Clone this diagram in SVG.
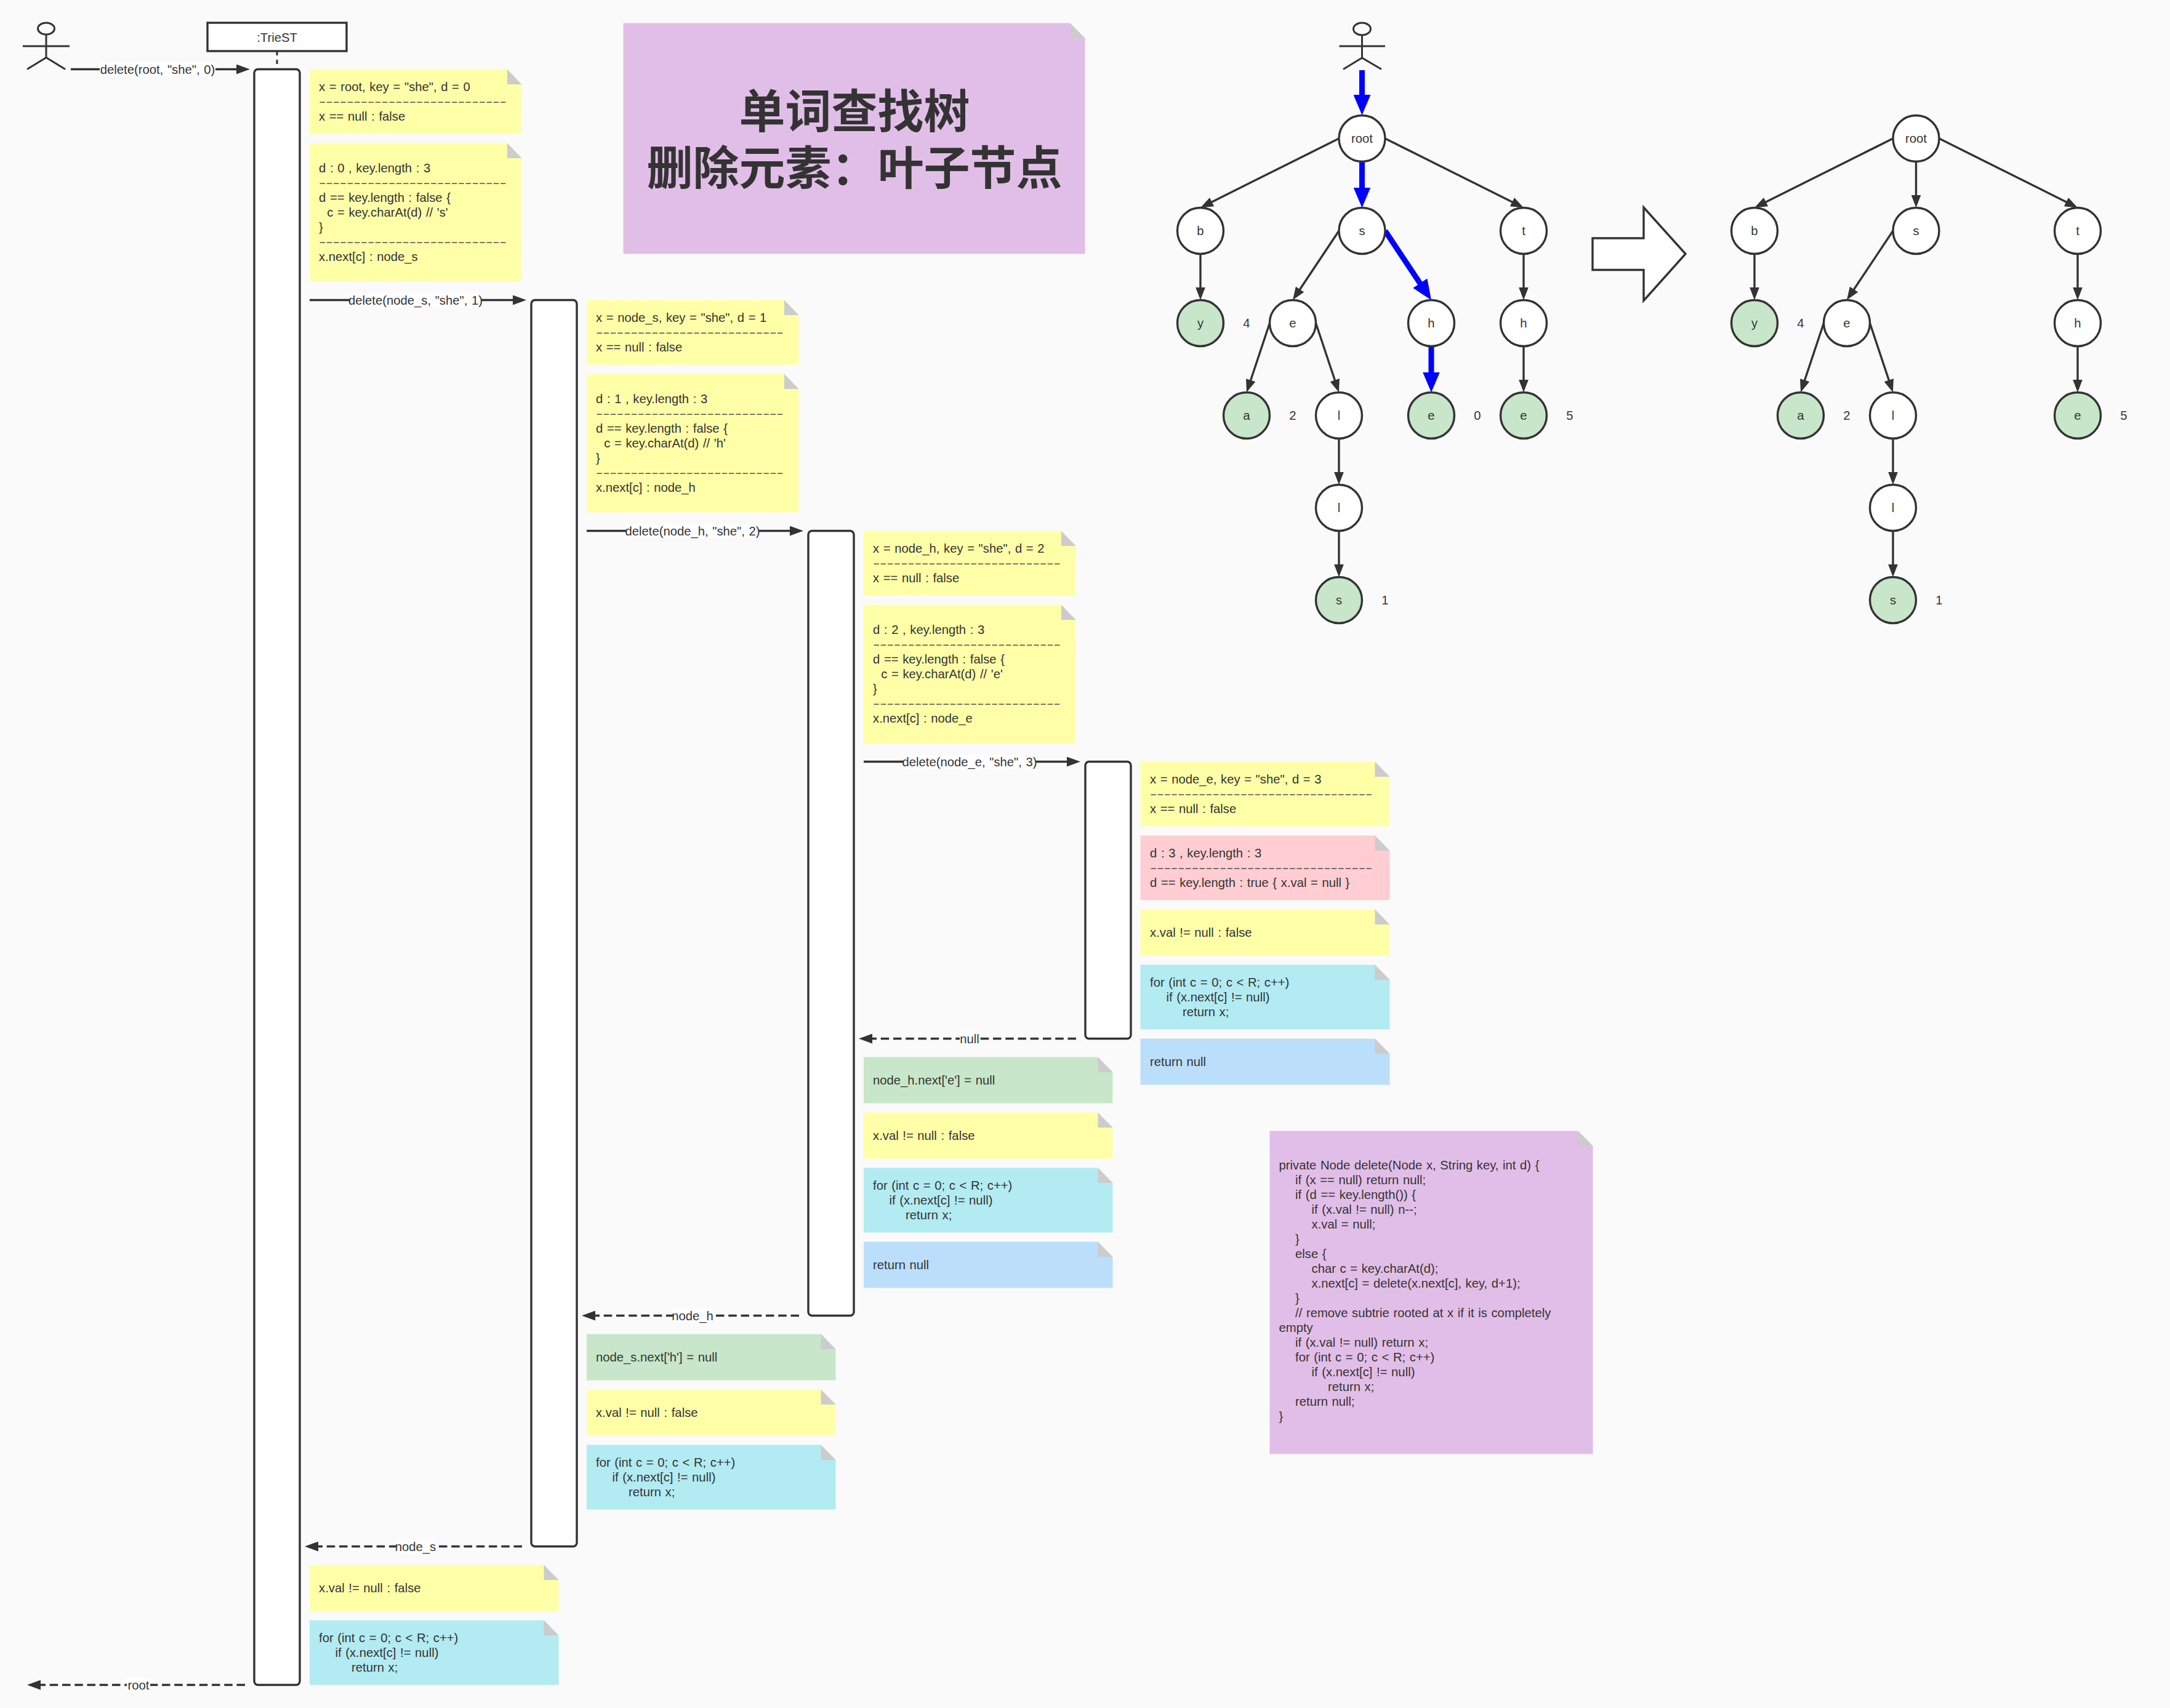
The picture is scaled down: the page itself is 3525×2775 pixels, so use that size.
<svg xmlns="http://www.w3.org/2000/svg" width="3525" height="2775" viewBox="0 0 3525 2775">
<style>
text{font-family:"Liberation Sans","Noto Sans CJK SC",sans-serif;font-size:20.25px;fill:#333;word-spacing:1px;white-space:pre}
.m{text-anchor:middle}
.d{fill:#555;word-spacing:0}
.title{font-family:"Noto Sans CJK SC",sans-serif;font-size:75px;font-weight:700;text-anchor:middle;word-spacing:0}
.fold{fill:#ccc}
.y{fill:#ffffa8}.r{fill:#ffcdd2}.c{fill:#b2ebf2}.b{fill:#bbdefb}.g{fill:#c8e6c9}.p{fill:#e1bee7}
.act{fill:#fff;stroke:#333;stroke-width:3.4}
.n{fill:#fff;stroke:#333;stroke-width:3.4}
.leaf{fill:#c8e6c9;stroke:#333;stroke-width:3.4}
.actor{fill:none;stroke:#333;stroke-width:3}
.msg{fill:none;stroke:#333;stroke-width:3.4;marker-end:url(#ah)}
.ret{fill:none;stroke:#333;stroke-width:3.4;stroke-dasharray:13.5 6.75;marker-end:url(#ah)}
.e{fill:none;stroke:#333;stroke-width:3.4;marker-end:url(#th)}
.be{fill:none;stroke:#00f;stroke-width:9;marker-end:url(#bh)}
.lb{fill:#fff}
</style>
<defs>
<marker id="ah" markerUnits="userSpaceOnUse" markerWidth="22" markerHeight="16" refX="12" refY="8" orient="auto"><path d="M0 0L22 8L0 16Z" fill="#333"/></marker>
<marker id="th" markerUnits="userSpaceOnUse" markerWidth="21" markerHeight="16" refX="11" refY="8" orient="auto"><path d="M0 0L21 8L0 16Z" fill="#333"/></marker>
<marker id="bh" markerUnits="userSpaceOnUse" markerWidth="33" markerHeight="28" refX="13" refY="14" orient="auto"><path d="M0 0L33 14L0 28Z" fill="#00f"/></marker>
</defs>
<rect width="3525" height="2775" fill="#fafafa"/>

<g id="connectors">
<path class="msg" d="M115 112.5H396"/>
<path class="msg" d="M503 487.5H845"/>
<path class="msg" d="M953 862.5H1295"/>
<path class="msg" d="M1403 1237.5H1745"/>
<path class="ret" d="M1748 1687.5H1405"/>
<path class="ret" d="M1298 2137.5H955"/>
<path class="ret" d="M848 2512.5H505"/>
<path class="ret" d="M398 2737.5H54"/>
<path d="M450 83V112" fill="none" stroke="#333" stroke-width="3" stroke-dasharray="7 7"/>
<path class="be" d="M2212.5 114V167"/>
<path class="be" d="M2212.5 262.5V317.5"/>
<path class="be" d="M2250 375L2313.9 470.9"/>
<path class="be" d="M2325 562.5V617.5"/>
<path class="e" d="M2175 225L1958.9 333"/>
<path class="e" d="M2250 225L2466.1 333"/>
<path class="e" d="M1950 412.5V477.5"/>
<path class="e" d="M2475 412.5V477.5"/>
<path class="e" d="M2475 562.5V627.5"/>
<path class="e" d="M2175 375L2105.5 479.2"/>
<path class="e" d="M2062.5 525L2028.2 628"/>
<path class="e" d="M2137.5 525L2171.8 628"/>
<path class="e" d="M2175 712.5V777.5"/>
<path class="e" d="M2175 862.5V927.5"/>
<path class="e" d="M3075 225L2858.9 333"/>
<path class="e" d="M3150 225L3366.1 333"/>
<path class="e" d="M3112.5 262.5V327.5"/>
<path class="e" d="M2850 412.5V477.5"/>
<path class="e" d="M3375 412.5V477.5"/>
<path class="e" d="M3375 562.5V627.5"/>
<path class="e" d="M3075 375L3005.5 479.2"/>
<path class="e" d="M2962.5 525L2928.2 628"/>
<path class="e" d="M3037.5 525L3071.8 628"/>
<path class="e" d="M3075 712.5V777.5"/>
<path class="e" d="M3075 862.5V927.5"/>
<rect class="lb" x="162" y="101" width="188" height="23"/><text class="m" x="256" y="120">delete(root, "she", 0)</text>
<rect class="lb" x="569" y="476" width="212" height="23"/><text class="m" x="675" y="495">delete(node_s, "she", 1)</text>
<rect class="lb" x="1017" y="851" width="216" height="23"/><text class="m" x="1125" y="870">delete(node_h, "she", 2)</text>
<rect class="lb" x="1467" y="1226" width="216" height="23"/><text class="m" x="1575" y="1245">delete(node_e, "she", 3)</text>
<rect class="lb" x="1559" y="1676" width="32" height="23"/><text class="m" x="1575" y="1695">null</text>
<rect class="lb" x="1093" y="2126" width="64" height="23"/><text class="m" x="1125" y="2145">node_h</text>
<rect class="lb" x="643" y="2501" width="64" height="23"/><text class="m" x="675" y="2520">node_s</text>
<rect class="lb" x="206" y="2725" width="38" height="23"/><text class="m" x="225" y="2745">root</text>
</g>

<g id="actor1"><ellipse class="actor" cx="75" cy="46.5" rx="13.5" ry="9.5"/><path class="actor" d="M75 56V93.5M37 75H113M44 112.5L75 93.5L106 112.5"/></g>
<g id="trie-st"><rect x="337" y="37" width="226" height="46" fill="#fff" stroke="#333" stroke-width="3.4"/><text class="m" x="450" y="68">:TrieST</text></g>
<g id="act0"><rect class="act" x="413" y="112.5" width="74" height="2625" rx="6"/></g>
<g id="act1"><rect class="act" x="863" y="487.5" width="74" height="2025" rx="6"/></g>
<g id="act2"><rect class="act" x="1313" y="862.5" width="74" height="1275" rx="6"/></g>
<g id="act3"><rect class="act" x="1763" y="1237.5" width="74" height="450" rx="6"/></g>

<g id="note-0a"><path class="y" d="M503 112.5H824L847.5 137V217.5H503Z"/><path class="fold" d="M824 112.5L847.5 137H824Z"/><text x="518" y="148">x = root, key = "she", d = 0</text><text class="d" transform="translate(518 172) scale(1.675 1)">---------------------------</text><text x="518" y="196">x == null : false</text></g>
<g id="note-0b"><path class="y" d="M503 232.5H824L847.5 257V457.5H503Z"/><path class="fold" d="M824 232.5L847.5 257H824Z"/><text x="518" y="280">d : 0 , key.length : 3</text><text class="d" transform="translate(518 304) scale(1.675 1)">---------------------------</text><text x="518" y="328">d == key.length : false {</text><text x="518" y="352">  c = key.charAt(d) // 's'</text><text x="518" y="376">}</text><text class="d" transform="translate(518 400) scale(1.675 1)">---------------------------</text><text x="518" y="424">x.next[c] : node_s</text></g>

<g id="note-1a"><path class="y" d="M953 487.5H1274L1297.5 512V592.5H953Z"/><path class="fold" d="M1274 487.5L1297.5 512H1274Z"/><text x="968" y="523">x = node_s, key = "she", d = 1</text><text class="d" transform="translate(968 547) scale(1.675 1)">---------------------------</text><text x="968" y="571">x == null : false</text></g>
<g id="note-1b"><path class="y" d="M953 607.5H1274L1297.5 632V832.5H953Z"/><path class="fold" d="M1274 607.5L1297.5 632H1274Z"/><text x="968" y="655">d : 1 , key.length : 3</text><text class="d" transform="translate(968 679) scale(1.675 1)">---------------------------</text><text x="968" y="703">d == key.length : false {</text><text x="968" y="727">  c = key.charAt(d) // 'h'</text><text x="968" y="751">}</text><text class="d" transform="translate(968 775) scale(1.675 1)">---------------------------</text><text x="968" y="799">x.next[c] : node_h</text></g>

<g id="note-2a"><path class="y" d="M1403 862.5H1724L1747.5 887V967.5H1403Z"/><path class="fold" d="M1724 862.5L1747.5 887H1724Z"/><text x="1418" y="898">x = node_h, key = "she", d = 2</text><text class="d" transform="translate(1418 922) scale(1.675 1)">---------------------------</text><text x="1418" y="946">x == null : false</text></g>
<g id="note-2b"><path class="y" d="M1403 982.5H1724L1747.5 1007V1207.5H1403Z"/><path class="fold" d="M1724 982.5L1747.5 1007H1724Z"/><text x="1418" y="1030">d : 2 , key.length : 3</text><text class="d" transform="translate(1418 1054) scale(1.675 1)">---------------------------</text><text x="1418" y="1078">d == key.length : false {</text><text x="1418" y="1102">  c = key.charAt(d) // 'e'</text><text x="1418" y="1126">}</text><text class="d" transform="translate(1418 1150) scale(1.675 1)">---------------------------</text><text x="1418" y="1174">x.next[c] : node_e</text></g>

<g id="note-3a"><path class="y" d="M1852.5 1237.5H2233.5L2257.5 1262V1342.5H1852.5Z"/><path class="fold" d="M2233.5 1237.5L2257.5 1262H2233.5Z"/><text x="1868" y="1273">x = node_e, key = "she", d = 3</text><text class="d" transform="translate(1868 1297) scale(1.675 1)">--------------------------------</text><text x="1868" y="1321">x == null : false</text></g>
<g id="note-3b"><path class="r" d="M1852.5 1357.5H2233.5L2257.5 1382V1462.5H1852.5Z"/><path class="fold" d="M2233.5 1357.5L2257.5 1382H2233.5Z"/><text x="1868" y="1393">d : 3 , key.length : 3</text><text class="d" transform="translate(1868 1417) scale(1.675 1)">--------------------------------</text><text x="1868" y="1441">d == key.length : true { x.val = null }</text></g>
<g id="note-3c"><path class="y" d="M1852.5 1477.5H2233.5L2257.5 1502V1552.5H1852.5Z"/><path class="fold" d="M2233.5 1477.5L2257.5 1502H2233.5Z"/><text x="1868" y="1522">x.val != null : false</text></g>
<g id="note-3d"><path class="c" d="M1852.5 1567.5H2233.5L2257.5 1592V1672.5H1852.5Z"/><path class="fold" d="M2233.5 1567.5L2257.5 1592H2233.5Z"/><text x="1868" y="1603">for (int c = 0; c &lt; R; c++)</text><text x="1868" y="1627">    if (x.next[c] != null)</text><text x="1868" y="1651">        return x;</text></g>
<g id="note-3e"><path class="b" d="M1852.5 1687.5H2233.5L2257.5 1712V1762.5H1852.5Z"/><path class="fold" d="M2233.5 1687.5L2257.5 1712H2233.5Z"/><text x="1868" y="1732">return null</text></g>

<g id="note-2c"><path class="g" d="M1403 1717.5H1783.5L1807.5 1742V1792.5H1403Z"/><path class="fold" d="M1783.5 1717.5L1807.5 1742H1783.5Z"/><text x="1418" y="1762">node_h.next['e'] = null</text></g>
<g id="note-2d"><path class="y" d="M1403 1807.5H1783.5L1807.5 1832V1882.5H1403Z"/><path class="fold" d="M1783.5 1807.5L1807.5 1832H1783.5Z"/><text x="1418" y="1852">x.val != null : false</text></g>
<g id="note-2e"><path class="c" d="M1403 1897.5H1783.5L1807.5 1922V2002.5H1403Z"/><path class="fold" d="M1783.5 1897.5L1807.5 1922H1783.5Z"/><text x="1418" y="1933">for (int c = 0; c &lt; R; c++)</text><text x="1418" y="1957">    if (x.next[c] != null)</text><text x="1418" y="1981">        return x;</text></g>
<g id="note-2f"><path class="b" d="M1403 2017.5H1783.5L1807.5 2042V2092.5H1403Z"/><path class="fold" d="M1783.5 2017.5L1807.5 2042H1783.5Z"/><text x="1418" y="2062">return null</text></g>

<g id="note-1c"><path class="g" d="M953 2167.5H1333.5L1357.5 2192V2242.5H953Z"/><path class="fold" d="M1333.5 2167.5L1357.5 2192H1333.5Z"/><text x="968" y="2212">node_s.next['h'] = null</text></g>
<g id="note-1d"><path class="y" d="M953 2257.5H1333.5L1357.5 2282V2332.5H953Z"/><path class="fold" d="M1333.5 2257.5L1357.5 2282H1333.5Z"/><text x="968" y="2302">x.val != null : false</text></g>
<g id="note-1e"><path class="c" d="M953 2347.5H1333.5L1357.5 2372V2452.5H953Z"/><path class="fold" d="M1333.5 2347.5L1357.5 2372H1333.5Z"/><text x="968" y="2383">for (int c = 0; c &lt; R; c++)</text><text x="968" y="2407">    if (x.next[c] != null)</text><text x="968" y="2431">        return x;</text></g>

<g id="note-0c"><path class="y" d="M503 2542.5H883.5L907.5 2567V2617.5H503Z"/><path class="fold" d="M883.5 2542.5L907.5 2567H883.5Z"/><text x="518" y="2587">x.val != null : false</text></g>
<g id="note-0d"><path class="c" d="M503 2632.5H883.5L907.5 2657V2737.5H503Z"/><path class="fold" d="M883.5 2632.5L907.5 2657H883.5Z"/><text x="518" y="2668">for (int c = 0; c &lt; R; c++)</text><text x="518" y="2692">    if (x.next[c] != null)</text><text x="518" y="2716">        return x;</text></g>

<g id="title"><path class="p" d="M1012.5 37.5H1738L1762.5 62V412.5H1012.5Z"/><path class="fold" d="M1738 37.5L1762.5 62H1738Z"/><text class="title"><tspan x="1388" y="208">单词查找树</tspan><tspan x="1388" y="300">删除元素：叶子节点</tspan></text></g>

<g id="code"><path class="p" d="M2062.5 1837.5H2563.5L2587.5 1862V2362.5H2062.5Z"/><path class="fold" d="M2563.5 1837.5L2587.5 1862H2563.5Z"/>
<text x="2077.5" y="1900">private Node delete(Node x, String key, int d) {</text>
<text x="2077.5" y="1924">    if (x == null) return null;</text>
<text x="2077.5" y="1948">    if (d == key.length()) {</text>
<text x="2077.5" y="1972">        if (x.val != null) n--;</text>
<text x="2077.5" y="1996">        x.val = null;</text>
<text x="2077.5" y="2020">    }</text>
<text x="2077.5" y="2044">    else {</text>
<text x="2077.5" y="2068">        char c = key.charAt(d);</text>
<text x="2077.5" y="2092">        x.next[c] = delete(x.next[c], key, d+1);</text>
<text x="2077.5" y="2116">    }</text>
<text x="2077.5" y="2140">    // remove subtrie rooted at x if it is completely</text>
<text x="2077.5" y="2164">empty</text>
<text x="2077.5" y="2188">    if (x.val != null) return x;</text>
<text x="2077.5" y="2212">    for (int c = 0; c &lt; R; c++)</text>
<text x="2077.5" y="2236">        if (x.next[c] != null)</text>
<text x="2077.5" y="2260">            return x;</text>
<text x="2077.5" y="2284">    return null;</text>
<text x="2077.5" y="2308">}</text></g>

<g id="actor2"><ellipse class="actor" cx="2212.5" cy="47" rx="14" ry="10"/><path class="actor" d="M2212.5 57V94M2175.5 75H2250M2182 112.5L2212.5 94L2244 112.5"/></g>

<g id="t1-root"><circle class="n" cx="2212.5" cy="225" r="37.5"/><text class="m" x="2212.5" y="232">root</text></g>
<g id="t1-b"><circle class="n" cx="1950" cy="375" r="37.5"/><text class="m" x="1950" y="382">b</text></g>
<g id="t1-s"><circle class="n" cx="2212.5" cy="375" r="37.5"/><text class="m" x="2212.5" y="382">s</text></g>
<g id="t1-t"><circle class="n" cx="2475" cy="375" r="37.5"/><text class="m" x="2475" y="382">t</text></g>
<g id="t1-y"><circle class="leaf" cx="1950" cy="525" r="37.5"/><text class="m" x="1950" y="532">y</text></g>
<g id="t1-e"><circle class="n" cx="2100" cy="525" r="37.5"/><text class="m" x="2100" y="532">e</text></g>
<g id="t1-h"><circle class="n" cx="2325" cy="525" r="37.5"/><text class="m" x="2325" y="532">h</text></g>
<g id="t1-th"><circle class="n" cx="2475" cy="525" r="37.5"/><text class="m" x="2475" y="532">h</text></g>
<g id="t1-a"><circle class="leaf" cx="2025" cy="675" r="37.5"/><text class="m" x="2025" y="682">a</text></g>
<g id="t1-l"><circle class="n" cx="2175" cy="675" r="37.5"/><text class="m" x="2175" y="682">l</text></g>
<g id="t1-he"><circle class="leaf" cx="2325" cy="675" r="37.5"/><text class="m" x="2325" y="682">e</text></g>
<g id="t1-the"><circle class="leaf" cx="2475" cy="675" r="37.5"/><text class="m" x="2475" y="682">e</text></g>
<g id="t1-l2"><circle class="n" cx="2175" cy="825" r="37.5"/><text class="m" x="2175" y="832">l</text></g>
<g id="t1-ls"><circle class="leaf" cx="2175" cy="975" r="37.5"/><text class="m" x="2175" y="982">s</text></g>
<g id="t1-vals"><text class="m" x="2025" y="532">4</text><text class="m" x="2100" y="682">2</text><text class="m" x="2400" y="682">0</text><text class="m" x="2550" y="682">5</text><text class="m" x="2250" y="982">1</text></g>

<g id="big-arrow"><path d="M2587 387H2670V337L2738 412.5L2670 488.5V438.5H2587Z" fill="#fff" stroke="#333" stroke-width="3.4"/></g>

<g id="t2-root"><circle class="n" cx="3112.5" cy="225" r="37.5"/><text class="m" x="3112.5" y="232">root</text></g>
<g id="t2-b"><circle class="n" cx="2850" cy="375" r="37.5"/><text class="m" x="2850" y="382">b</text></g>
<g id="t2-s"><circle class="n" cx="3112.5" cy="375" r="37.5"/><text class="m" x="3112.5" y="382">s</text></g>
<g id="t2-t"><circle class="n" cx="3375" cy="375" r="37.5"/><text class="m" x="3375" y="382">t</text></g>
<g id="t2-y"><circle class="leaf" cx="2850" cy="525" r="37.5"/><text class="m" x="2850" y="532">y</text></g>
<g id="t2-e"><circle class="n" cx="3000" cy="525" r="37.5"/><text class="m" x="3000" y="532">e</text></g>
<g id="t2-th"><circle class="n" cx="3375" cy="525" r="37.5"/><text class="m" x="3375" y="532">h</text></g>
<g id="t2-a"><circle class="leaf" cx="2925" cy="675" r="37.5"/><text class="m" x="2925" y="682">a</text></g>
<g id="t2-l"><circle class="n" cx="3075" cy="675" r="37.5"/><text class="m" x="3075" y="682">l</text></g>
<g id="t2-the"><circle class="leaf" cx="3375" cy="675" r="37.5"/><text class="m" x="3375" y="682">e</text></g>
<g id="t2-l2"><circle class="n" cx="3075" cy="825" r="37.5"/><text class="m" x="3075" y="832">l</text></g>
<g id="t2-ls"><circle class="leaf" cx="3075" cy="975" r="37.5"/><text class="m" x="3075" y="982">s</text></g>
<g id="t2-vals"><text class="m" x="2925" y="532">4</text><text class="m" x="3000" y="682">2</text><text class="m" x="3450" y="682">5</text><text class="m" x="3150" y="982">1</text></g>
</svg>
